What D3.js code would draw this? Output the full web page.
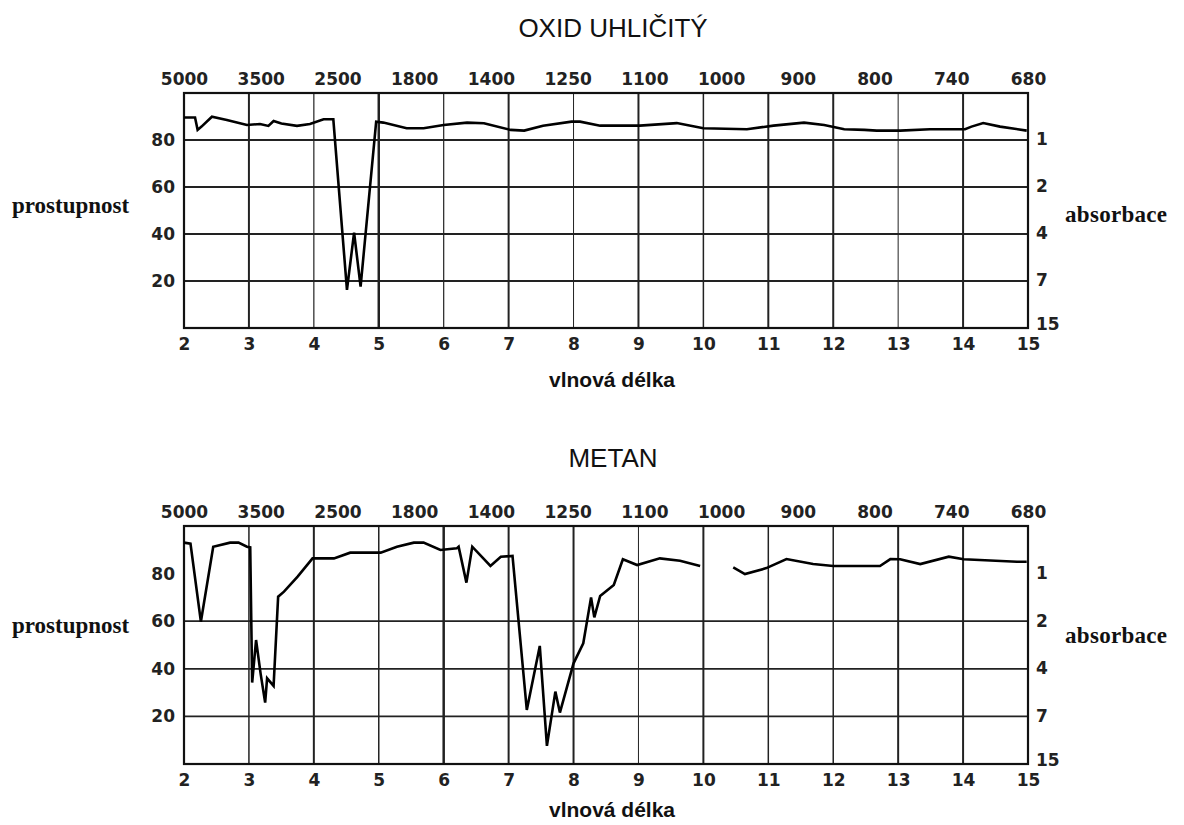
<!DOCTYPE html>
<html>
<head>
<meta charset="utf-8">
<script src="https://cdn.jsdelivr.net/npm/d3@7"></script>
<style>
  body { margin: 0; background: #fff; }
  svg { display: block; }
</style>
</head>
<body>
<div id="graphics-box"></div>
<script>
// DATA
// wavelength in micrometres, transmittance in %
const co2Wl = [2.0, 2.17, 2.21, 2.27, 2.43, 2.66, 2.97, 3.17, 3.3, 3.38, 3.5, 3.74, 3.94, 4.15, 4.3,
  4.51, 4.62, 4.72, 4.96, 5.07, 5.43, 5.69, 6.0, 6.36, 6.62, 7.03, 7.24, 7.53, 7.97, 8.1, 8.41,
  9.02, 9.59, 10.0, 10.67, 11.08, 11.55, 11.86, 12.17, 12.48, 12.67, 13.03, 13.49, 14.03, 14.13,
  14.31, 14.57, 14.98];
const co2T = [89.6, 89.6, 84.3, 85.7, 89.9, 88.5, 86.4, 86.8, 86.0, 88.1, 87.0, 86.0, 86.8, 88.8, 88.8,
  16.2, 40.6, 17.6, 87.8, 87.4, 85.0, 85.0, 86.4, 87.4, 87.1, 84.3, 84.0, 86.1, 87.8, 87.8, 86.1,
  86.1, 87.2, 85.0, 84.6, 86.1, 87.4, 86.4, 84.6, 84.3, 84.0, 84.0, 84.6, 84.6, 85.7,
  87.2, 85.7, 84.0];

const ch4Wl = [2.0, 2.1, 2.26, 2.45, 2.71, 2.84, 2.97, 3.02, 3.05, 3.11, 3.18, 3.25, 3.28, 3.38, 3.45,
  3.54, 3.75, 3.98, 4.31, 4.56, 5.03, 5.28, 5.54, 5.69, 5.95, 6.2, 6.23, 6.35, 6.44, 6.72, 6.88,
  7.06, 7.28, 7.48, 7.59, 7.72, 7.79, 8.0, 8.15, 8.27, 8.32, 8.41, 8.62, 8.76, 8.98, 9.33, 9.64,
  9.95, 10.2, 10.46, 10.64, 10.97, 11.28, 11.69, 12.0, 12.72, 12.88, 13.03, 13.34, 13.78, 14.01,
  14.83, 14.98];
const ch4T = [93.0, 92.6, 59.8, 91.3, 93.0, 93.0, 91.3, 91.0, 34.2, 52.1, 38, 25.8, 36, 32.8, 70.3,
  72.4, 78.7, 86.4, 86.4, 88.8, 88.8, 91.3, 93.0, 93.0, 89.9, 90.6, 91.3, 76.2, 91.3, 83.2, 87.1,
  87.4, 22.7, 49.6, 7.6, 30.4, 21.6, 42.3, 50.7, 70.0, 61.6, 70.6, 75.2, 86.0, 83.6, 86.4, 85.4,
  83.2, null, 82.6, 79.8, 82.3, 86.1, 84.0, 83.2, 83.2, 86.1, 86.0, 84.0, 87.1, 86.0,
  85.0, 85.0];

// TICK LABELS
const wlTicks = [2, 3, 4, 5, 6, 7, 8, 9, 10, 11, 12, 13, 14, 15];
const waveNumLabels = ["5000", "3500", "2500", "1800", "1400", "1250", "1100", "1000", "900", "800", "740", "680"];
const tTicks = [80, 60, 40, 20];
const absLabels = ["1", "2", "4", "7", "15"];
const absAt = [80, 60, 40, 20, 0];

// GRID LINE WEIGHTS (style only)
const vWeightTop = [2, 1.2, 2.5, 1.2, 2, 1, 2, 1.5, 2, 2, 1, 2];
const vWeightBot = [1.5, 2, 1.5, 2.5, 2, 2, 1, 2, 1.5, 1.5, 2, 2];

const w = 1184;
const h = 825;
const left = 184;
const right = 1028;

const svg = d3.select("#graphics-box")
  .append("svg")
  .attr("width", w)
  .attr("height", h);

const xScale = d3.scaleLinear().domain([2, 15]).range([left, right]);
const topScale = d3.scalePoint().domain(waveNumLabels).range([left, right]);

const panels = [
  { title: "OXID UHLIČITÝ", top: 93, bottom: 328, titleY: 37, yLabY: 213, absLabY: 222, xLabY: 387,
    data: d3.zip(co2Wl, co2T), hLines: tTicks, vWeight: vWeightTop },
  { title: "METAN", top: 526, bottom: 764, titleY: 467, yLabY: 633, absLabY: 643, xLabY: 817,
    data: d3.zip(ch4Wl, ch4T), hLines: [60, 40, 20], vWeight: vWeightBot }
];

const tickFont = "'DejaVu Sans', sans-serif";

panels.forEach(function(p) {
  const yScale = d3.scaleLinear().domain([0, 100]).range([p.bottom, p.top]);
  const g = svg.append("g");

  // TITLE
  g.append("text")
    .text(p.title)
    .attr("x", 613)
    .attr("y", p.titleY)
    .attr("text-anchor", "middle")
    .style("font-family", "'Liberation Sans', Arial, sans-serif")
    .style("font-size", "26px")
    .style("fill", "#111");

  // GRID - vertical
  g.selectAll(".vgrid")
    .data(wlTicks.slice(1, -1))
    .enter()
    .append("line")
    .attr("x1", (d) => xScale(d))
    .attr("x2", (d) => xScale(d))
    .attr("y1", p.top)
    .attr("y2", p.bottom)
    .attr("stroke", "#222")
    .attr("stroke-width", (d, i) => p.vWeight[i]);

  // GRID - horizontal
  g.selectAll(".hgrid")
    .data(p.hLines)
    .enter()
    .append("line")
    .attr("x1", left)
    .attr("x2", right)
    .attr("y1", (d) => yScale(d))
    .attr("y2", (d) => yScale(d))
    .attr("stroke", "#222")
    .attr("stroke-width", 1.8);

  // FRAME
  g.append("rect")
    .attr("x", left)
    .attr("y", p.top)
    .attr("width", right - left)
    .attr("height", p.bottom - p.top)
    .attr("fill", "none")
    .attr("stroke", "#111")
    .attr("stroke-width", 2.2);

  // SPECTRUM LINE
  const line = d3.line()
    .defined((d) => d[1] != null)
    .x((d) => xScale(d[0]))
    .y((d) => yScale(d[1]));

  g.append("path")
    .datum(p.data)
    .attr("d", line)
    .attr("fill", "none")
    .attr("stroke", "#000")
    .attr("stroke-width", 2.6)
    .attr("stroke-linejoin", "miter");

  // AXES (labels only)
  const xAxis = d3.axisBottom(xScale).tickValues(wlTicks).tickSize(0).tickPadding(0)
    .tickFormat(d3.format("d"));
  const xAx = g.append("g")
    .attr("transform", "translate(0," + (p.bottom + 10) + ")")
    .call(xAxis);

  const topAxis = d3.axisTop(topScale).tickSize(0).tickPadding(0);
  const topAx = g.append("g")
    .attr("transform", "translate(0," + (p.top - 8) + ")")
    .call(topAxis);

  const yAxis = d3.axisLeft(yScale).tickValues(tTicks).tickSize(0).tickPadding(9);
  const yAx = g.append("g")
    .attr("transform", "translate(" + left + ",0)")
    .call(yAxis);

  const absScale = d3.scaleOrdinal().domain(absLabels).range(absAt.map((v) => yScale(v)));
  const rAxis = d3.axisRight(d3.scalePoint().domain(absLabels).range([yScale(80), yScale(0)]))
    .tickSize(0).tickPadding(8);
  const rAx = g.append("g")
    .attr("transform", "translate(" + right + ",0)")
    .call(rAxis);
  rAx.selectAll(".tick").attr("transform", (d) => "translate(0," + absScale(d) + ")");

  [xAx, topAx, yAx, rAx].forEach(function(ax) {
    ax.select(".domain").remove();
    ax.selectAll("text")
      .style("font-family", tickFont)
      .style("font-weight", "bold")
      .style("font-size", "17px")
      .style("fill", "#222");
  });
  xAx.selectAll("text").attr("dy", "0.71em");
  rAx.selectAll(".tick").filter((d) => d === "15").select("text").attr("dy", "0.1em");

  // AXIS TITLES
  g.append("text")
    .text("prostupnost")
    .attr("x", 12)
    .attr("y", p.yLabY)
    .style("font-family", "'Liberation Serif', 'Times New Roman', serif")
    .style("font-weight", "bold")
    .style("font-size", "23px")
    .style("fill", "#111");

  g.append("text")
    .text("absorbace")
    .attr("x", 1065)
    .attr("y", p.absLabY)
    .style("font-family", "'Liberation Serif', 'Times New Roman', serif")
    .style("font-weight", "bold")
    .style("font-size", "23px")
    .style("letter-spacing", "0.3px")
    .style("fill", "#111");

  g.append("text")
    .text("vlnová délka")
    .attr("x", 612)
    .attr("y", p.xLabY)
    .attr("text-anchor", "middle")
    .style("font-family", "'Liberation Sans', Arial, sans-serif")
    .style("font-weight", "bold")
    .style("font-size", "21px")
    .style("fill", "#111");
});
</script>
</body>
</html>
